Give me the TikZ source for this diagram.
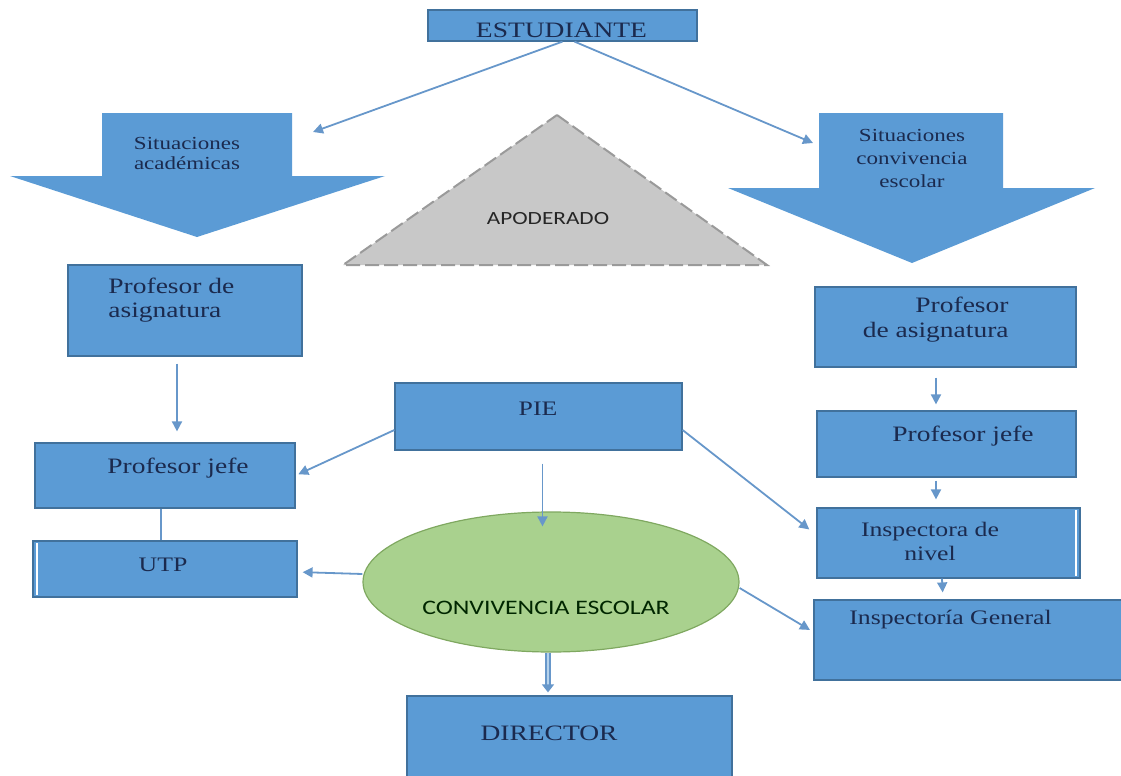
\documentclass[tikz,border=0pt]{standalone}
\usepackage{fontspec}
\setmainfont{Liberation Serif}[FakeStretch=1.25]
\newfontfamily\calfont{Carlito}[FakeStretch=1.25]
\usetikzlibrary{arrows.meta,shapes.geometric}

\definecolor{boxblue}{HTML}{5B9BD5}
\definecolor{boxline}{HTML}{41719C}
\definecolor{navytext}{HTML}{1B2A4E}
\definecolor{linkblue}{HTML}{6797CA}
\definecolor{ovalgreen}{HTML}{A9D18E}
\definecolor{ovalline}{HTML}{7FA860}
\definecolor{apogray}{HTML}{C8C8C8}
\definecolor{apoline}{HTML}{9A9A9A}

\tikzset{
    box/.style={draw=boxline, fill=boxblue, line width=0.6pt, inner sep=0pt},
    txt/.style={text=navytext, inner sep=0pt, font=\fontsize{11}{12}\selectfont},
    smalltxt/.style={text=navytext, inner sep=0pt, font=\fontsize{10.3}{12}\selectfont},
    conn/.style={draw=linkblue, line width=0.9pt, -{Triangle[length=5pt,width=5pt]}},
}

\begin{document}
\begin{tikzpicture}[x=0.5pt, y=-0.5pt]
    \useasboundingbox (0,0) rectangle (1121,776);

    % big arrows
    \fill[boxblue] (102,113) -- (292,113) -- (292,176) -- (385,176) -- (197,237)
        -- (10,176) -- (102,176) -- cycle;
    \fill[boxblue] (819,113) -- (1003,113) -- (1003,188) -- (1095,188) -- (912,263)
        -- (728,188) -- (819,188) -- cycle;
    \node[txt, align=center, font=\fontsize{9.2}{10}\selectfont] (acad) at (187,153) {Situaciones\\académicas};
    \node[txt, align=center, font=\fontsize{9.2}{11.5}\selectfont] (conv-txt) at (912,158) {Situaciones\\convivencia\\escolar};
    \coordinate (acad-tip) at (313,132);
    \coordinate (conv-tip) at (813,143);

    % apoderado
    \draw[fill=apogray, draw=apoline, line width=1pt, dash pattern=on 7pt off 2.5pt]
        (557,115) -- (767,265) -- (343,265) -- cycle;
    \node[inner sep=0pt, text=black!85, font=\calfont\fontsize{9.3}{11}\selectfont] (apod) at (548,219) {APODERADO};

    % boxes
    \node[box, minimum width=134.5pt, minimum height=15.5pt] (estud) at (562.5,25.5) {};
    \node[txt] (estud-t) at (561.5,30) {ESTUDIANTE};

    \node[box, minimum width=117pt, minimum height=45.5pt] (pa1) at (185,310.5) {};
    \node[txt, anchor=west, align=left] (pa1-t) at (108,300) {Profesor de\\asignatura};
    \node[box, minimum width=130pt, minimum height=32.5pt] (pj1) at (165,475.5) {};
    \node[txt] (pj1-t) at (178,468) {Profesor jefe};
    \node[box, minimum width=132pt, minimum height=28pt] (utp) at (165,569) {};
    \draw[white, line width=1pt] (37,543) -- (37,595);
    \node[smalltxt] (utp-t) at (163,565) {UTP};

    \node[box, minimum width=143.5pt, minimum height=33.5pt] (pie) at (538.5,416.5) {};
    \node[smalltxt] (pie-t) at (538,409) {PIE};

    \node[box, minimum width=130.5pt, minimum height=40pt] (pa2) at (945.5,327) {};
    \node[txt, anchor=east, align=right, font=\fontsize{11}{12.5}\selectfont] (pa2-t) at (1009,320) {Profesor\\de asignatura};
    \node[box, minimum width=129.5pt, minimum height=33pt] (pj2) at (946.5,444) {};
    \node[txt] (pj2-t) at (963,436) {Profesor jefe};
    \node[box, minimum width=131.5pt, minimum height=35pt] (insp) at (948.5,543) {};
    \draw[white, line width=1pt] (1076,510) -- (1076,576);
    \node[smalltxt, align=center] (insp-t) at (930,541) {Inspectora de\\nivel};
    \node[box, minimum width=154.5pt, minimum height=40pt] (ig) at (968.5,640) {};
    \node[smalltxt, anchor=west] (ig-t) at (849,620) {Inspectoría General};

    \node[draw=ovalline, fill=ovalgreen, ellipse, line width=0.6pt, minimum width=188pt, minimum height=70pt] (conv) at (551,582) {};
    \node[inner sep=0pt, text=black!85!green, font=\calfont\fontsize{10.3}{12}\selectfont] (conv-t) at (546,608) {CONVIVENCIA ESCOLAR};

    \node[box, minimum width=162.5pt, minimum height=42pt] (dir) at (569.5,738) {};
    \node[txt] (dir-t) at (549,733) {DIRECTOR};

    % connectors
    \draw[conn] (estud.south) -- (acad-tip);
    \draw[conn] ([xshift=6pt]estud.south) -- (conv-tip);

    \draw[conn, shorten <=3.5pt, shorten >=5.5pt] ([xshift=-4pt]pa1.south) -- ([xshift=6pt]pj1.north);
    \draw[linkblue, line width=0.9pt] ([xshift=-2pt]pj1.south) -- ([xshift=-2pt]utp.north);

    \draw[conn, shorten >=1.5pt] ([yshift=-6.75pt]pie.west) -- (pj1.east);
    \draw[conn, shorten <=6.5pt, shorten >=-7.5pt] ([xshift=2pt]pie.south) -- ([xshift=2pt]pie.south |- conv.north);
    \draw[conn, shorten >=4.5pt] ([yshift=-6.75pt]pie.east) -- ([yshift=4pt]insp.west);

    \draw[conn, shorten >=2.5pt] ([yshift=4pt]conv.west) -- ([yshift=-1.5pt]utp.east);
    \draw[conn, shorten >=2pt] ([yshift=-3pt]conv.east) -- ([yshift=4pt]ig.west);
    \draw[linkblue, line width=0.7pt, double=boxblue!45, double distance=1.3pt,
        -{Triangle[length=4pt,width=6pt]}, shorten >=1.5pt] ([xshift=-1.5pt]conv.south) -- ([xshift=-1.5pt]conv.south |- dir.north);

    \draw[conn, shorten <=5pt, shorten >=3pt] ([xshift=-4.75pt]pa2.south) -- ([xshift=-5.25pt]pj2.north);
    \draw[conn, shorten <=1.5pt, shorten >=4pt] ([xshift=-5.25pt]pj2.south) -- ([xshift=-6.25pt]insp.north);
    \draw[conn, shorten >=3.5pt] ([xshift=-3.25pt]insp.south) -- ([xshift=-12.75pt]ig.north);

\end{tikzpicture}
\end{document}
